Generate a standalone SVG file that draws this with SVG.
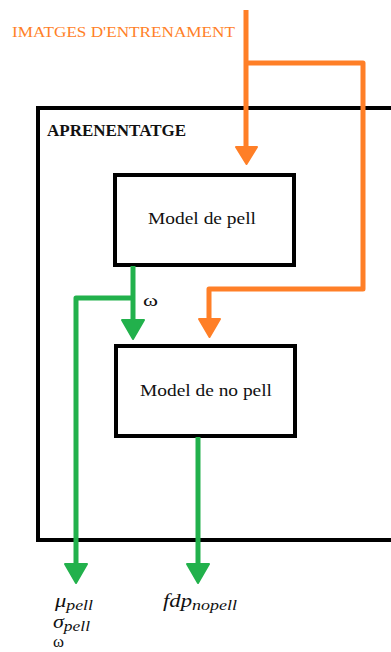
<svg xmlns="http://www.w3.org/2000/svg" width="391" height="652" viewBox="0 0 391 652">
  <style>
    .box { fill: #ffffff; stroke: #000000; stroke-width: 4; }
    .frame { fill: none; stroke: #000000; stroke-width: 4; }
    .lbl { font-family: "Liberation Serif", "DejaVu Serif", serif; font-size: 17px; fill: #111111; }
    .title { font-family: "Liberation Serif", "DejaVu Serif", serif; font-size: 16px; font-weight: bold; fill: #111111; }
    .math { font-family: "Liberation Serif", "DejaVu Serif", serif; font-style: italic; font-size: 19px; fill: #111111; }
    .sub { font-size: 15px; }
    .or { fill: none; stroke: #FF7F27; stroke-width: 5; stroke-linejoin: round; }
    .gr { fill: none; stroke: #22B14C; stroke-width: 5; stroke-linejoin: round; }
    .orh { fill: #FF7F27; stroke: #FF7F27; stroke-width: 2; stroke-linejoin: round; }
    .grh { fill: #22B14C; stroke: #22B14C; stroke-width: 2; stroke-linejoin: round; }
  </style>

  <rect width="391" height="652" fill="#ffffff"/>

  <!-- outer learning frame -->
  <g id="aprenentatge">
    <rect class="frame" x="38" y="108" width="360" height="432"/>
    <text class="title" x="47" y="136" textLength="139" lengthAdjust="spacingAndGlyphs">APRENENTATGE</text>
  </g>

  <g id="input-label">
    <text x="12" y="37" font-family="'Liberation Serif', 'DejaVu Serif', serif" font-size="15" fill="#FF7F27" textLength="223" lengthAdjust="spacingAndGlyphs">IMATGES D'ENTRENAMENT</text>
  </g>

  <g id="model-pell">
    <rect class="box" x="115" y="175" width="179" height="90"/>
    <text class="lbl" x="148" y="224" textLength="108" lengthAdjust="spacingAndGlyphs">Model de pell</text>
  </g>

  <g id="model-no-pell">
    <rect class="box" x="116" y="346" width="179" height="90"/>
    <text class="lbl" x="140" y="396" textLength="132" lengthAdjust="spacingAndGlyphs">Model de no pell</text>
  </g>

  <g id="connectors">
    <!-- training images into both models -->
    <path class="or" d="M246 10 V148"/>
    <path class="orh" d="M236 147 L257 147 L246.5 164 Z"/>
    <path class="or" d="M246 63 H363 V289 H209 V320"/>
    <path class="orh" d="M199 319 L220 319 L209.5 337 Z"/>

    <!-- skin model outputs -->
    <path class="gr" d="M133 266 V322"/>
    <path class="grh" d="M122 320 L144 320 L133 339 Z"/>
    <path class="gr" d="M133 298 H76 V565"/>
    <path class="grh" d="M65 564 L87 564 L76 583 Z"/>

    <!-- non-skin model output -->
    <path class="gr" d="M198 437 V565"/>
    <path class="grh" d="M187 564 L209 564 L198 583 Z"/>

    <text class="lbl" x="143" y="306" textLength="15" lengthAdjust="spacingAndGlyphs">ω</text>
  </g>

  <g id="outputs">
    <text class="math" x="55" y="607" textLength="38" lengthAdjust="spacingAndGlyphs">μ<tspan class="sub" dy="3">pell</tspan></text>
    <text class="math" x="53" y="628" textLength="37" lengthAdjust="spacingAndGlyphs">σ<tspan class="sub" dy="3">pell</tspan></text>
    <text class="lbl" x="53" y="647" textLength="11" lengthAdjust="spacingAndGlyphs">ω</text>
    <text class="math" x="163" y="607" textLength="74" lengthAdjust="spacingAndGlyphs">fdp<tspan class="sub" dy="3">nopell</tspan></text>
  </g>
</svg>
